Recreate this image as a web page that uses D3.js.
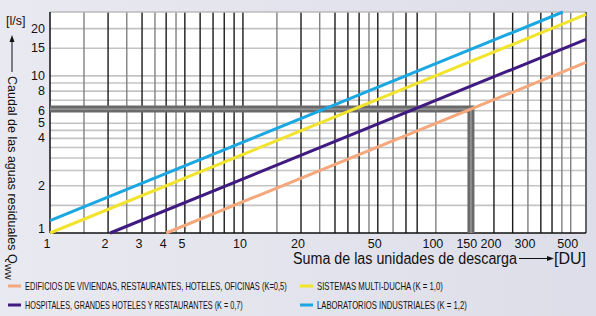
<!DOCTYPE html>
<html>
<head>
<meta charset="utf-8">
<script src="https://cdn.jsdelivr.net/npm/d3@7"></script>
<style>
  html, body { margin: 0; padding: 0; background: #e4e4ee; }
  svg { display: block; font-family: "Liberation Sans", Arial, sans-serif; }
</style>
</head>
<body>
<div class="chart"></div>
<script>
// grid values
const xGridLight = [1.5, 2.5, 3.5, 4.5, 15, 25, 45, 60, 100, 150, 300, 450, 500]
const xGridDark = [2, 3, 4, 5, 6, 7, 8, 9, 10, 20, 30, 35, 40, 50, 70, 80, 200, 250, 350, 400]
const yGrid = [1.5, 2, 2.5, 3, 3.5, 4, 4.5, 5, 6, 7, 8, 9, 10, 15, 20]
const xTickLabels = [1, 2, 3, 4, 5, 10, 20, 50, 100, 150, 200, 300, 500]
const yTickLabels = [1, 2, 4, 5, 6, 8, 10, 15, 20]

// series: end points [DU, Q] of each straight line
const seriesNames = [
  'EDIFICIOS DE VIVIENDAS, RESTAURANTES, HOTELES, OFICINAS (K=0,5)',
  'HOSPITALES, GRANDES HOTELES Y RESTAURANTES (K = 0,7)',
  'SISTEMAS MULTI-DUCHA (K = 1,0)',
  'LABORATORIOS INDUSTRIALES (K = 1,2)'
]
const seriesColors = ['#f5a87c', '#3f1a80', '#f2e42c', '#1ba7e1']
const orangeLine = [[4, 1], [600, 12.2]]
const purpleLine = [[2.05, 1], [600, 17.1]]
const yellowLine = [[1, 1], [600, 24.6]]
const cyanLine = [[1, 1.2], [455, 25.5]]
const seriesData = [orangeLine, purpleLine, yellowLine, cyanLine]

// highlighted reading
const readDU = 152
const readQ = 6.15

const width = 596
const height = 316
const plot = { left: 50, right: 586, top: 12, bottom: 233 }

const svg = d3
  .select('.chart')
  .append('svg')
  .attr('width', width)
  .attr('height', height)

// background
const bg = svg.append('defs').append('linearGradient')
  .attr('id', 'bgGrad').attr('x1', 0).attr('y1', 0).attr('x2', 1).attr('y2', 0)
bg.append('stop').attr('offset', '0%').attr('stop-color', '#e9e9f1')
bg.append('stop').attr('offset', '100%').attr('stop-color', '#dedeea')
svg.append('rect').attr('width', width).attr('height', height).attr('fill', 'url(#bgGrad)')

const xScale = d3.scaleLog().domain([1, 600]).range([plot.left, plot.right])
const yScale = d3.scaleLog().domain([1, 25.5]).range([plot.bottom, plot.top])

svg.append('rect')
  .attr('x', plot.left).attr('y', plot.top)
  .attr('width', plot.right - plot.left).attr('height', plot.bottom - plot.top)
  .attr('fill', '#fff')

// horizontal grid
svg.append('g')
  .selectAll('line')
  .data(yGrid)
  .enter()
  .append('line')
  .attr('x1', plot.left).attr('x2', plot.right)
  .attr('y1', d => yScale(d)).attr('y2', d => yScale(d))
  .attr('stroke', '#c4c4c4')
  .attr('stroke-width', 1.6)

// vertical grid
svg.append('g')
  .selectAll('line')
  .data(xGridLight)
  .enter()
  .append('line')
  .attr('x1', d => xScale(d)).attr('x2', d => xScale(d))
  .attr('y1', plot.top).attr('y2', plot.bottom)
  .attr('stroke', '#808080')
  .attr('stroke-width', 1.4)
svg.append('g')
  .selectAll('line')
  .data(xGridDark)
  .enter()
  .append('line')
  .attr('x1', d => xScale(d)).attr('x2', d => xScale(d))
  .attr('y1', plot.top).attr('y2', plot.bottom)
  .attr('stroke', '#1a1a1a')
  .attr('stroke-width', 1.4)

// border
svg.append('line').attr('x1', plot.left).attr('x2', plot.right)
  .attr('y1', plot.top).attr('y2', plot.top).attr('stroke', '#bbb').attr('stroke-width', 1.5)
svg.append('line').attr('x1', plot.right).attr('x2', plot.right)
  .attr('y1', plot.top).attr('y2', plot.bottom).attr('stroke', '#666').attr('stroke-width', 2)
svg.append('line').attr('x1', plot.left).attr('x2', plot.left)
  .attr('y1', plot.top).attr('y2', plot.bottom).attr('stroke', '#111').attr('stroke-width', 1.5)
svg.append('line').attr('x1', plot.left).attr('x2', plot.right)
  .attr('y1', plot.bottom).attr('y2', plot.bottom).attr('stroke', '#111').attr('stroke-width', 1.5)

// reading band
const rx = xScale(readDU)
const ry = yScale(readQ)
svg.append('path')
  .attr('d', `M${plot.left},${ry} H${rx} V${plot.bottom}`)
  .attr('fill', 'none').attr('stroke', '#6a6a6a').attr('stroke-width', 7)
svg.append('path')
  .attr('d', `M${plot.left},${ry} H${rx} V${plot.bottom}`)
  .attr('fill', 'none').attr('stroke', '#a0a0a0').attr('stroke-width', 1.3)

// series lines
const line = d3.line()
  .x(d => xScale(d[0]))
  .y(d => yScale(d[1]))
svg.append('g')
  .selectAll('path')
  .data(seriesData)
  .enter()
  .append('path')
  .attr('d', line)
  .attr('fill', 'none')
  .attr('stroke', (d, i) => seriesColors[i])
  .attr('stroke-width', 3)

// tick labels
svg.append('g')
  .selectAll('text')
  .data(xTickLabels)
  .enter()
  .append('text')
  .attr('x', d => xScale(d) - 3)
  .attr('y', 248)
  .attr('text-anchor', 'middle')
  .attr('font-size', 12.5)
  .attr('fill', '#111')
  .text(d => d)
svg.append('g')
  .selectAll('text')
  .data(yTickLabels)
  .enter()
  .append('text')
  .attr('x', 45)
  .attr('y', d => yScale(d) + 4 - (d === 1 ? 4 : 0))
  .attr('text-anchor', 'end')
  .attr('font-size', 12.5)
  .attr('fill', '#111')
  .text(d => d)

// y title
svg.append('text').attr('x', 6).attr('y', 25).attr('font-size', 12.5).attr('fill', '#111').text('[l/s]')
svg.append('line').attr('x1', 12).attr('x2', 12).attr('y1', 72).attr('y2', 40)
  .attr('stroke', '#111').attr('stroke-width', 1)
svg.append('path').attr('d', 'M12,35 L9.5,42 L14.5,42 Z').attr('fill', '#111')
const yTitle = svg.append('text')
  .attr('transform', 'translate(8,76) rotate(90)')
  .attr('font-size', 12.5)
  .attr('fill', '#111')
yTitle.append('tspan').text('Caudal de las aguas residuales  Q')
yTitle.append('tspan').attr('font-size', 8.5).attr('dy', 3).text('WW')

// x title
svg.append('text').attr('x', 293).attr('y', 264).attr('font-size', 16).attr('fill', '#111')
  .attr('textLength', 224).attr('lengthAdjust', 'spacingAndGlyphs')
  .text('Suma de las unidades de descarga')
svg.append('line').attr('x1', 519).attr('x2', 548).attr('y1', 258.5).attr('y2', 258.5)
  .attr('stroke', '#111').attr('stroke-width', 1)
svg.append('path').attr('d', 'M554,258.5 L547,256 L547,261 Z').attr('fill', '#111')
svg.append('text').attr('x', 554).attr('y', 264).attr('font-size', 16).attr('fill', '#111').text('[DU]')

// legend
const legendPos = [[8, 286], [8, 305], [300, 286], [300, 305]]
const legendLen = [262, 218, 126, 150]
const legend = svg.append('g')
  .selectAll('g')
  .data(seriesNames)
  .enter()
  .append('g')
  .attr('transform', (d, i) => `translate(${legendPos[i][0]}, ${legendPos[i][1]})`)
legend.append('line')
  .attr('x1', 0).attr('x2', 13).attr('y1', 0).attr('y2', 0)
  .attr('stroke', (d, i) => seriesColors[i]).attr('stroke-width', 3)
legend.append('text')
  .attr('y', 3.8)
  .attr('font-size', 10.5)
  .attr('fill', '#111')
  .text(d => d)
  .attr('transform', function(d, i) {
    // squeeze into the width the condensed face takes in the picture
    const natural = this.getComputedTextLength()
    return `translate(17,0) scale(${legendLen[i] / natural},1)`
  })
</script>
</body>
</html>
